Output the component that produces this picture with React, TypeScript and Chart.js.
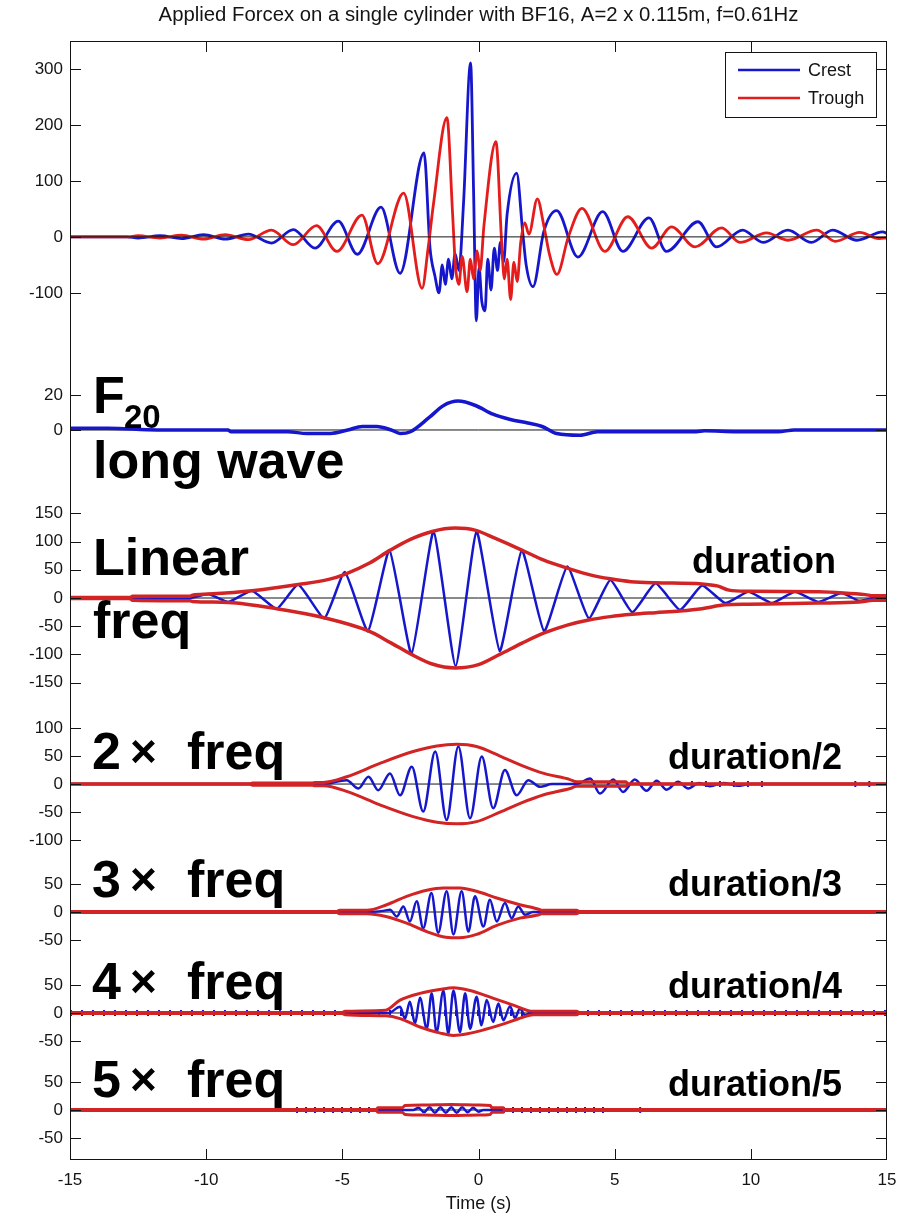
import React, { useEffect, useRef } from "react";
import { Chart, registerables } from "chart.js";

Chart.register(...registerables);

const FONT = '"Liberation Sans", Arial, sans-serif';

// ---------- Axis ticks ----------
const xTicks = [-15, -10, -5, 0, 5, 10, 15];
const ticksTop = [-100, 0, 100, 200, 300];
const ticksF20 = [0, 20];
const ticksLin = [-150, -100, -50, 0, 50, 100, 150];
const ticks2x = [-100, -50, 0, 50, 100];
const ticks3x = [-50, 0, 50];
const ticks4x = [-50, 0, 50];
const ticks5x = [-50, 0, 50];

// ---------- Top panel: applied force ----------
const crest: [number, number][] = [
  [-15, 0], [-12.9, 0], [-12.5, -2], [-11.7, 2], [-10.9, -3], [-10.1, 4], [-9.3, -4], [-8.45, 5],
  [-7.6, -11], [-6.8, 13], [-6.0, -20], [-5.15, 28], [-4.45, -31], [-3.58, 53], [-2.88, -65],
  [-2.0, 150], [-1.78, -20], [-1.6, -70], [-1.45, -100], [-1.33, -50], [-1.22, -85], [-1.1, -40],
  [-0.98, -75], [-0.86, -30], [-0.72, -60], [-0.55, 60], [-0.29, 311], [-0.18, 80], [-0.08, -150],
  [0.02, -55], [0.12, -115], [0.24, -132], [0.34, -40], [0.46, -95], [0.58, -20], [0.7, -60],
  [0.8, -10], [0.92, -45], [1.05, 40], [1.4, 114], [1.62, 10], [1.75, -50], [2.0, -89], [2.4, 10],
  [2.87, 47], [3.65, -36], [4.56, 45], [5.3, -26], [6.26, 34], [6.9, -26], [8.06, 27], [8.74, -18],
  [9.7, 12], [10.45, -10], [11.36, 12], [12.23, -10], [13.0, 12], [13.9, -6], [14.84, 9], [15, 6],
];
const trough: [number, number][] = [
  [-15, 0], [-12.9, 0], [-12.5, 2], [-11.7, -2], [-10.9, 3], [-10.1, -4], [-9.3, 4], [-8.45, -5],
  [-7.6, 12], [-6.8, -14], [-5.95, 20], [-5.2, -26], [-4.28, 39], [-3.7, -48], [-2.75, 78],
  [-2.07, -92], [-1.85, -20], [-1.65, 60], [-1.16, 213], [-0.95, 40], [-0.85, -50], [-0.72, -85],
  [-0.6, -35], [-0.42, -98], [-0.3, -40], [-0.18, -75], [-0.05, -25], [0.06, -60], [0.2, 20],
  [0.64, 170], [0.85, -10], [0.95, -75], [1.05, -40], [1.18, -112], [1.3, -45], [1.42, -80],
  [1.55, -10], [1.7, 25], [1.85, 5], [2.16, 68], [2.4, 20], [2.6, -30], [2.88, -67], [3.3, 0],
  [3.8, 51], [4.64, -26], [5.48, 36], [6.36, -20], [7.09, 18], [7.95, -18], [8.93, 16], [9.6, -10],
  [10.58, 7], [11.35, -6], [12.42, 12], [13.1, -8], [14.0, 8], [14.7, -3], [15, -2],
];

// ---------- F20 long wave ----------
const f20: [number, number][] = [
  [-15, 1], [-13.6, 1], [-11.8, 0], [-9.2, 0], [-9.1, -1], [-7.0, -1], [-6.3, -2], [-5.44, -2],
  [-4.8, 0], [-4.27, 2], [-3.74, 2], [-3.2, 0], [-2.88, -2], [-2.5, -1], [-1.82, 7], [-1.28, 14],
  [-0.75, 16.5], [-0.11, 14], [0.53, 9], [1.17, 6], [1.81, 4], [2.34, 2], [2.87, -2], [3.73, -3],
  [4.37, -1], [8.0, -1], [8.3, -0.5], [9.5, -1], [11.0, -1], [11.6, 0], [15, 0],
];

// ---------- Linear frequency ----------
const linWave: [number, number][] = [
  [-15, 0], [-10.6, 0], [-9.92, 7], [-9.18, -7], [-8.32, 13], [-7.41, -19], [-6.62, 24], [-5.66, -36],
  [-4.91, 46], [-4.06, -59], [-3.27, 85], [-2.46, -99], [-1.65, 118], [-0.84, -121], [-0.07, 118],
  [0.78, -94], [1.59, 85], [2.41, -59], [3.26, 56], [4.05, -36], [4.84, 32], [5.65, -25], [6.5, 26],
  [7.4, -21], [8.21, 22], [9.06, -9], [9.91, 11], [10.77, -9], [11.62, 11], [12.47, -7], [13.33, 9],
  [13.97, -5], [14.5, 0], [15, 0],
];
const linUpper: [number, number][] = [
  [-15, 1], [-12.8, 1], [-12.7, 3], [-10.6, 3], [-10.5, 5], [-9.92, 7], [-8.32, 13], [-6.62, 24],
  [-5.5, 33], [-4.91, 42], [-4.0, 62], [-3.27, 84], [-2.5, 104], [-1.7, 118], [-0.86, 124],
  [-0.1, 120], [0.6, 106], [1.59, 85], [2.4, 67], [3.26, 53], [4.1, 41], [4.84, 34], [5.6, 29],
  [6.5, 27], [8.2, 25], [8.8, 21], [9.2, 14], [9.9, 12], [12.5, 11], [13.4, 9], [14.2, 6], [14.5, 4], [15, 4],
];
const linLower: [number, number][] = [
  [-15, -1], [-12.8, -1], [-12.7, -4], [-10.6, -5], [-10.5, -6], [-9.18, -8], [-7.41, -19],
  [-5.66, -35], [-4.06, -58], [-3.2, -80], [-2.46, -100], [-1.7, -117], [-0.86, -124], [0.0, -118],
  [0.78, -100], [1.6, -80], [2.41, -62], [3.26, -48], [4.05, -39], [4.84, -33], [5.65, -29],
  [6.5, -26], [7.4, -23], [8.2, -19], [9.06, -12], [9.9, -11], [12.47, -9], [13.97, -7], [14.5, -4], [15, -4],
];

// ---------- 2x frequency ----------
const wave2x: [number, number][] = [
  [-15, 0], [-5.7, 0], [-4.84, 7], [-4.41, -8], [-4.04, 13], [-3.68, -11], [-3.25, 19], [-2.88, -20],
  [-2.45, 31], [-2.03, -49], [-1.59, 58], [-1.17, -64], [-0.74, 67], [-0.31, -61], [0.12, 49],
  [0.54, -43], [0.97, 25], [1.4, -20], [1.83, 7], [2.26, -5], [2.7, 0], [3.6, 0], [4.1, 10],
  [4.46, -17], [4.95, 8], [5.31, -14], [5.74, 8], [6.17, -12], [6.54, 6], [6.91, -10], [7.33, 4],
  [7.7, -8], [8.1, 2], [8.5, -4], [9.0, 2], [9.5, -3], [10.0, 0], [15, 0],
];
const upper2x: [number, number][] = [
  [-15, 0.5], [-8.4, 0.5], [-8.3, 2], [-6.1, 2], [-6.0, 3], [-5.7, 3], [-4.84, 13], [-3.62, 37],
  [-2.4, 58], [-1.53, 68], [-0.8, 71], [-0.07, 67], [0.79, 50], [1.6, 33], [2.4, 19], [3.36, 8],
  [3.6, 4], [5.4, 4], [5.5, 0.5], [15, 0.5],
];
const lower2x: [number, number][] = [
  [-15, -0.5], [-8.4, -0.5], [-8.3, -2], [-6.1, -2], [-6.0, -3], [-5.7, -3], [-4.84, -13],
  [-3.62, -37], [-2.4, -58], [-1.53, -68], [-0.8, -71], [-0.07, -67], [0.79, -50], [1.6, -33],
  [2.4, -19], [3.36, -8], [3.6, -4], [5.4, -4], [5.5, -0.5], [15, -0.5],
];
const tail2x: [number, number | null][] = [[7.8, 0], [10.5, 0], [11, null], [13.8, 0], [14.8, 0]];

// ---------- 3x frequency ----------
const wave3x: [number, number][] = [
  [-15, 0], [-4.0, 0], [-3.5, 2], [-3.25, 4], [-3.0, -8], [-2.76, 10], [-2.52, -17], [-2.27, 19],
  [-2.03, -29], [-1.73, 34], [-1.48, -37], [-1.17, 37], [-0.92, -40], [-0.62, 37], [-0.37, -35],
  [-0.13, 28], [0.18, -26], [0.42, 22], [0.67, -17], [0.97, 16], [1.22, -11], [1.46, 10],
  [1.71, -5], [2.0, 0], [15, 0],
];
const upper3x: [number, number][] = [
  [-15, 1], [-5.2, 1], [-5.1, 3], [-4.1, 3], [-3.37, 13], [-2.64, 28], [-1.9, 39], [-1.29, 43],
  [-0.68, 43], [-0.07, 37], [0.67, 25], [1.52, 13], [2.26, 4], [2.3, 3], [3.6, 3], [3.7, 1], [15, 1],
];
const lower3x: [number, number][] = [
  [-15, -1], [-5.2, -1], [-5.1, -3], [-4.1, -3], [-3.4, -8], [-2.64, -20], [-1.9, -35], [-1.2, -45],
  [-0.7, -46], [-0.07, -40], [0.67, -24], [1.52, -11], [2.26, -4], [2.3, -3], [3.6, -3], [3.7, -1], [15, -1],
];

// ---------- 4x frequency ----------
const wave4x: [number, number][] = [
  [-15, 0], [-3.3, 0], [-2.88, 11], [-2.7, -10], [-2.52, 20], [-2.33, -19], [-2.15, 27], [-1.9, -28],
  [-1.72, 35], [-1.54, -34], [-1.29, 40], [-1.11, -37], [-0.92, 40], [-0.68, -34], [-0.49, 35],
  [-0.31, -28], [-0.07, 29], [0.11, -22], [0.3, 23], [0.54, -16], [0.73, 17], [0.91, -13],
  [1.16, 12], [1.34, -9], [1.52, 8], [1.71, -4], [1.9, 0], [15, 0],
];
const upper4x: [number, number][] = [
  [-15, 1], [-5.0, 1], [-4.9, 3], [-3.41, 5], [-2.88, 23], [-2.15, 35], [-1.41, 42], [-0.92, 45],
  [-0.31, 40], [0.55, 26], [1.28, 14], [2.01, 3], [3.6, 3], [3.7, 1], [15, 1],
];
const lower4x: [number, number][] = [
  [-15, -1], [-5.0, -1], [-4.9, -3], [-3.41, -5], [-2.88, -10], [-2.15, -25], [-1.4, -36],
  [-0.92, -40], [-0.4, -37], [0.2, -30], [0.9, -20], [1.6, -8], [2.01, -3], [3.6, -3], [3.7, -1], [15, -1],
];
const tail4x: [number, number][] = [[-15, 0], [15, 0]];

// ---------- 5x frequency ----------
const wave5x: [number, number][] = [
  [-15, 0], [-2.4, 0], [-2.2, 4], [-2.0, -4], [-1.8, 5], [-1.6, -5], [-1.4, 5], [-1.2, -5],
  [-1.0, 5], [-0.8, -5], [-0.6, 5], [-0.4, -4], [-0.2, 4], [0.0, -3], [0.18, 0], [15, 0],
];
const upper5x: [number, number][] = [
  [-15, 1], [-3.74, 1], [-3.7, 4], [-2.8, 4], [-2.7, 8], [-2.0, 9], [-1.0, 10], [0.0, 9],
  [0.43, 8], [0.5, 4], [0.91, 4], [0.95, 1], [15, 1],
];
const lower5x: [number, number][] = [
  [-15, -1], [-3.74, -1], [-3.7, -4], [-2.8, -4], [-2.7, -8], [-2.0, -9], [-1.0, -10], [0.0, -9],
  [0.43, -8], [0.5, -4], [0.91, -4], [0.95, -1], [15, -1],
];
const tail5x: [number, number | null][] = [[-6.7, 0], [-3.7, 0], [-2, null], [0.9, 0], [4.7, 0], [5, null], [5.9, 0], [6.1, 0]];

const zeroLine: [number, number][] = [[-15, 0], [15, 0]];

// ---------- Styling ----------
const BLUE = "#1616cc";
const RED = "#e41c1c";
const ENV = "#d22424";
const INK = "#141414";

const pts = (a: [number, number | null][]) => a.map(([x, y]) => ({ x, y }));

function ds(data: [number, number | null][], yAxisID: string, color: string, width: number, order: number, extra: any = {}) {
  return {
    data: pts(data),
    yAxisID,
    borderColor: color,
    backgroundColor: color,
    borderWidth: width,
    pointRadius: 0,
    fill: false,
    order,
    spanGaps: false,
    borderJoinStyle: "round",
    ...extra,
  };
}

const mono = { cubicInterpolationMode: "monotone" };

function yAxis(min: number, max: number, vals: number[], stackWeight: number, weight: number) {
  return {
    type: "linear",
    position: "left",
    stack: "panels",
    stackWeight,
    weight,
    min,
    max,
    grid: { display: false, drawTicks: false },
    border: { display: false },
    afterBuildTicks: (s: any) => {
      s.ticks = vals.map((v) => ({ value: v }));
    },
    afterFit: (s: any) => {
      s.width = 62;
    },
    ticks: {
      padding: 7,
      autoSkip: false,
      maxRotation: 0,
      color: INK,
      font: { family: FONT, size: 17 },
      callback: (v: any) => String(v),
    },
  };
}

const decor = {
  id: "decor",
  afterDraw(chart: any) {
    const ctx = chart.ctx;
    const a = chart.chartArea;
    ctx.save();
    ctx.strokeStyle = INK;
    ctx.lineWidth = 1;
    const line = (x1: number, y1: number, x2: number, y2: number) => {
      ctx.beginPath();
      ctx.moveTo(x1, y1);
      ctx.lineTo(x2, y2);
      ctx.stroke();
    };
    // frame
    ctx.strokeRect(a.left + 0.5, a.top + 0.5, a.right - a.left - 1, a.bottom - a.top - 1);
    // y tick marks, both sides, pointing inward
    for (const id of ["y1", "y2", "y3", "y4", "y5", "y6", "y7"]) {
      const s = chart.scales[id];
      for (const t of s.ticks) {
        const y = Math.round(s.getPixelForValue(t.value)) + 0.5;
        line(a.left, y, a.left + 11, y);
        line(a.right - 11, y, a.right, y);
      }
    }
    // x tick marks top and bottom
    const xs = chart.scales.x;
    for (const v of xTicks) {
      if (v === xTicks[0] || v === xTicks[xTicks.length - 1]) continue;
      const x = Math.round(xs.getPixelForValue(v)) + 0.5;
      line(x, a.top, x, a.top + 11);
      line(x, a.bottom - 11, x, a.bottom);
    }

    // title
    const title = "Applied Forcex on a single cylinder with BF16, A=2 x 0.115m, f=0.61Hz";
    ctx.fillStyle = INK;
    ctx.font = `17px ${FONT}`;
    const tw = ctx.measureText(title).width;
    const fs = 17 * (640 / tw);
    ctx.font = `${fs.toFixed(2)}px ${FONT}`;
    ctx.textAlign = "center";
    ctx.textBaseline = "middle";
    ctx.fillText(title, (a.left + a.right) / 2, 15);

    // legend
    const lg = { x: 725, y: 52, w: 151, h: 65 };
    ctx.fillStyle = "#fff";
    ctx.fillRect(lg.x, lg.y, lg.w, lg.h);
    ctx.strokeStyle = INK;
    ctx.lineWidth = 1;
    ctx.strokeRect(lg.x + 0.5, lg.y + 0.5, lg.w, lg.h);
    const items = [chart.data.datasets[1], chart.data.datasets[2]];
    items.forEach((d: any, i: number) => {
      const yy = lg.y + 18 + i * 28;
      ctx.strokeStyle = d.borderColor;
      ctx.lineWidth = 2.5;
      line(lg.x + 13, yy, lg.x + 75, yy);
      ctx.fillStyle = INK;
      ctx.font = `18px ${FONT}`;
      ctx.textAlign = "left";
      ctx.textBaseline = "middle";
      ctx.fillText(d.label, lg.x + 83, yy + 1);
    });

    // big annotations
    ctx.fillStyle = "#000";
    ctx.textAlign = "left";
    ctx.textBaseline = "alphabetic";
    const big = `bold 52px ${FONT}`;
    const mid = `bold 36px ${FONT}`;
    ctx.font = big;
    ctx.fillText("F", 93, 413);
    ctx.font = `bold 33px ${FONT}`;
    ctx.fillText("20", 124, 428);
    ctx.font = big;
    ctx.fillText("long wave", 93, 478);
    ctx.fillText("Linear", 93, 575);
    ctx.fillText("freq", 93, 638);
    const rows: [string, number][] = [["2", 769], ["3", 897], ["4", 999], ["5", 1097]];
    for (const [n, b] of rows) {
      ctx.font = big;
      ctx.fillText(n, 92, b);
      ctx.font = `bold 46px ${FONT}`;
      ctx.fillText("\u00d7", 130, b - 2);
      ctx.font = big;
      ctx.fillText("freq", 187, b);
    }
    ctx.font = mid;
    ctx.fillText("duration", 692, 573);
    ctx.fillText("duration/2", 668, 769);
    ctx.fillText("duration/3", 668, 896);
    ctx.fillText("duration/4", 668, 998);
    ctx.fillText("duration/5", 668, 1096);
    ctx.restore();
  },
};

export default function App() {
  const ref = useRef<HTMLCanvasElement>(null);
  useEffect(() => {
    const chart = new Chart(ref.current as HTMLCanvasElement, {
      type: "line",
      data: {
        datasets: [
          ds(zeroLine, "y1", INK, 1, 0, { label: "zero" }),
          ds(crest, "y1", BLUE, 2.8, 2, { label: "Crest", ...mono }),
          ds(trough, "y1", RED, 2.8, 1, { label: "Trough", ...mono }),

          ds(zeroLine, "y2", INK, 1, 2),
          ds(f20, "y2", BLUE, 3.5, 1, { ...mono }),

          ds(zeroLine, "y3", INK, 1, 3),
          ds(linWave, "y3", BLUE, 2.5, 2, { tension: 0.15 }),
          ds(linUpper, "y3", ENV, 3.5, 1, { ...mono }),
          ds(linLower, "y3", ENV, 3.5, 1, { ...mono }),

          ds(zeroLine, "y4", INK, 1, 4),
          ds(tail2x, "y4", BLUE, 6, 3, { borderDash: [2, 12] }),
          ds(wave2x, "y4", BLUE, 2.5, 2, { ...mono }),
          ds(upper2x, "y4", ENV, 3, 1, { ...mono }),
          ds(lower2x, "y4", ENV, 3, 1, { ...mono }),

          ds(zeroLine, "y5", INK, 1, 3),
          ds(wave3x, "y5", BLUE, 2.5, 2, { ...mono }),
          ds(upper3x, "y5", ENV, 3, 1, { ...mono }),
          ds(lower3x, "y5", ENV, 3, 1, { ...mono }),

          ds(zeroLine, "y6", INK, 1, 4),
          ds(tail4x, "y6", BLUE, 6, 3, { borderDash: [2, 9] }),
          ds(wave4x, "y6", BLUE, 2.5, 2, { ...mono }),
          ds(upper4x, "y6", ENV, 3, 1, { ...mono }),
          ds(lower4x, "y6", ENV, 3, 1, { ...mono }),

          ds(zeroLine, "y7", INK, 1, 4),
          ds(tail5x, "y7", BLUE, 6, 3, { borderDash: [2, 7] }),
          ds(wave5x, "y7", BLUE, 2.5, 2, { ...mono }),
          ds(upper5x, "y7", ENV, 3, 1, { ...mono }),
          ds(lower5x, "y7", ENV, 3, 1, { ...mono }),
        ] as any,
      },
      options: {
        responsive: false,
        animation: false,
        devicePixelRatio: 1,
        layout: { padding: { left: 8, right: 23, top: 41, bottom: 0 } },
        plugins: { legend: { display: false }, tooltip: { enabled: false }, title: { display: false } },
        events: [],
        scales: {
          x: {
            type: "linear",
            position: "bottom",
            min: -15,
            max: 15,
            grid: { display: false, drawTicks: false },
            border: { display: false },
            afterBuildTicks: (s: any) => {
              s.ticks = xTicks.map((v) => ({ value: v }));
            },
            afterFit: (s: any) => {
              s.height = 56;
            },
            ticks: {
              padding: 10,
              autoSkip: false,
              maxRotation: 0,
              color: INK,
              font: { family: FONT, size: 17 },
              callback: (v: any) => String(v),
            },
            title: {
              display: true,
              text: "Time (s)",
              color: INK,
              font: { family: FONT, size: 18 },
              padding: { top: 0, bottom: 1 },
            },
          },
          y1: yAxis(-220, 350, ticksTop, 319, 7),
          y2: yAxis(-34.3, 40, ticksF20, 130, 6),
          y3: yAxis(-189.7, 191.5, ticksLin, 215, 5),
          y4: yAxis(-139, 141, ticks2x, 157, 4),
          y5: yAxis(-89.3, 89.3, ticks3x, 100, 3),
          y6: yAxis(-87.5, 91, ticks4x, 100, 2),
          y7: yAxis(-89.3, 85.7, ticks5x, 98, 1),
        } as any,
      },
      plugins: [decor],
    } as any);
    return () => chart.destroy();
  }, []);
  return (
    <div style={{ position: "absolute", left: 0, top: 0, width: 910, height: 1216, background: "#fff" }}>
      <canvas ref={ref} width={910} height={1216} style={{ display: "block", width: 910, height: 1216 }} />
    </div>
  );
}
